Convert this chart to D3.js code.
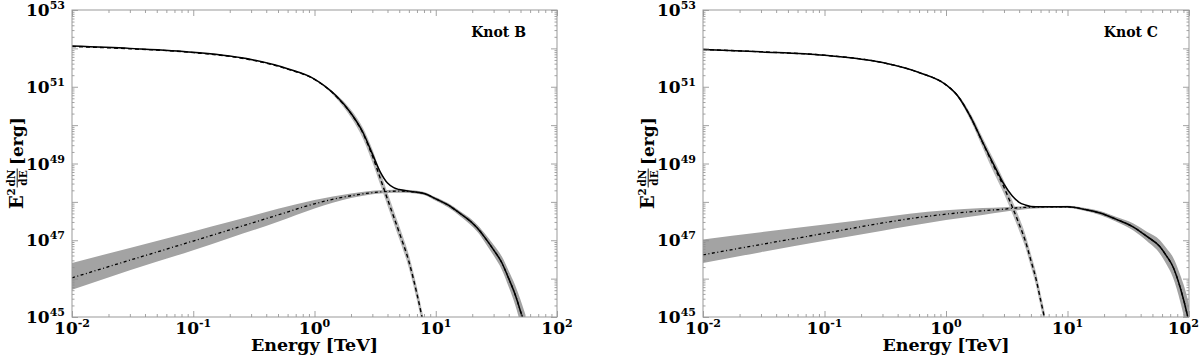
<!DOCTYPE html>
<html><head><meta charset="utf-8">
<script src="https://cdn.jsdelivr.net/npm/d3@7"></script>
<style>body{margin:0;background:#fff}</style></head>
<body><svg id="c" width="1200" height="356"></svg>
<script>
// Values: energies in TeV, curve values as log10(E^2 dN/dE / erg)
const xTickLabels = ["-2","-1","0","1","2"];
const yTickLabels = ["45","47","49","51","53"];
const panelTitles = ["Knot B","Knot C"];

// ---- Knot B ----
const knotB_lepE  = [0.01,0.03,0.1,0.3,0.6,1,1.5,2,2.5,3,3.5,4,5,6,7,8];
const knotB_lep   = [52.05,51.99,51.89,51.70,51.46,51.19,50.76,50.30,49.80,49.20,48.60,48.07,47.20,46.45,45.60,44.75];
const knotB_lepLo = [52.04,51.98,51.88,51.69,51.45,51.18,50.71,50.20,49.66,49.03,48.43,47.90,47.03,46.28,45.43,44.58];
const knotB_lepHi = [52.06,52.00,51.90,51.71,51.47,51.20,50.81,50.40,49.94,49.37,48.77,48.24,47.37,46.62,45.77,44.92];

const knotB_hadE  = [0.01,0.03,0.1,0.2,0.5,1,2,3,4,5,6,7,8,10,12.6,16,20,23,25,30,35,40,45,50,55];
const knotB_had   = [46.02,46.48,46.98,47.27,47.66,47.95,48.16,48.24,48.27,48.28,48.27,48.25,48.22,48.08,47.92,47.69,47.45,47.25,47.10,46.75,46.42,46.00,45.60,45.15,44.70];
const knotB_hadLo = [45.71,46.22,46.74,47.06,47.48,47.83,48.10,48.20,48.23,48.24,48.23,48.21,48.18,48.03,47.86,47.62,47.36,47.15,46.98,46.60,46.24,45.78,45.33,44.82,44.30];
const knotB_hadHi = [46.41,46.80,47.23,47.48,47.82,48.05,48.22,48.29,48.31,48.32,48.31,48.29,48.26,48.12,47.97,47.75,47.53,47.34,47.20,46.88,46.58,46.20,45.84,45.45,45.05];

const knotB_totE  = [0.01,0.03,0.1,0.3,0.6,1,1.5,2,2.5,3,3.5,4,4.5,5,6,7,8,10,12.6,16,20,23,25,30,35,40,45,50,55];
const knotB_tot   = [52.06,52.00,51.90,51.71,51.47,51.20,50.77,50.31,49.82,49.25,48.77,48.49,48.37,48.32,48.28,48.25,48.22,48.08,47.92,47.69,47.45,47.25,47.10,46.75,46.42,46.00,45.60,45.15,44.70];

// ---- Knot C ----
const knotC_lepE  = [0.01,0.03,0.1,0.3,0.6,1,1.25,1.6,2,2.5,3,3.5,4,4.5,5,5.5,6,6.5];
const knotC_lep   = [51.97,51.91,51.82,51.63,51.37,51.05,50.76,50.20,49.55,48.90,48.38,47.88,47.42,46.98,46.47,46.00,45.45,44.95];
const knotC_lepLo = [51.96,51.90,51.81,51.62,51.36,51.04,50.72,50.11,49.42,48.73,48.21,47.71,47.25,46.81,46.30,45.83,45.28,44.78];
const knotC_lepHi = [51.98,51.92,51.83,51.64,51.38,51.06,50.80,50.29,49.68,49.07,48.55,48.05,47.59,47.15,46.64,46.17,45.62,45.12];

const knotC_hadE  = [0.01,0.03,0.1,0.3,0.5,1,2,3,4,5,7,10,14,18.5,25,34.6,45,57.7,65,73.8,85,97.7,100];
const knotC_had   = [46.62,46.89,47.18,47.45,47.56,47.68,47.77,47.81,47.85,47.86,47.87,47.87,47.80,47.71,47.55,47.35,47.10,46.83,46.60,46.31,45.75,45.00,44.85];
const knotC_hadLo = [46.41,46.69,46.99,47.25,47.37,47.53,47.66,47.74,47.79,47.82,47.84,47.84,47.76,47.66,47.49,47.26,46.98,46.65,46.38,46.03,45.38,44.50,44.30];
const knotC_hadHi = [47.02,47.21,47.41,47.60,47.69,47.78,47.84,47.86,47.88,47.89,47.89,47.90,47.84,47.76,47.61,47.44,47.22,47.00,46.80,46.56,46.08,45.45,45.30];

const knotC_totE  = [0.01,0.03,0.1,0.3,0.6,1,1.25,1.6,2,2.5,3,3.5,4,4.5,5,6,7,10,14,18.5,25,34.6,45,57.7,65,73.8,85,97.7,100];
const knotC_tot   = [51.97,51.91,51.82,51.63,51.37,51.05,50.76,50.20,49.56,48.94,48.46,48.16,47.99,47.92,47.88,47.87,47.87,47.87,47.80,47.71,47.55,47.35,47.10,46.83,46.60,46.31,45.75,45.00,44.85];

const panels = [
  {x0:72, x1:557, title:panelTitles[0],
   lep:{E:knotB_lepE,v:knotB_lep,lo:knotB_lepLo,hi:knotB_lepHi},
   had:{E:knotB_hadE,v:knotB_had,lo:knotB_hadLo,hi:knotB_hadHi},
   tot:{E:knotB_totE,v:knotB_tot}},
  {x0:703, x1:1189, title:panelTitles[1],
   lep:{E:knotC_lepE,v:knotC_lep,lo:knotC_lepLo,hi:knotC_lepHi},
   had:{E:knotC_hadE,v:knotC_had,lo:knotC_hadLo,hi:knotC_hadHi},
   tot:{E:knotC_totE,v:knotC_tot}}
];

const Y0 = 10, Y1 = 317;
const FONT = "'DejaVu Serif', serif";
const svg = d3.select("#c");
const y = d3.scaleLog().domain([1e45,1e53]).range([Y1,Y0]);
const decadesX = [0.01,0.1,1,10,100];
const minorX = [];
[0.01,0.1,1,10].forEach(d=>{for(let k=2;k<=9;k++) minorX.push(d*k);});
const decadesY = d3.range(45,54).map(p=>Math.pow(10,p));
const minorY = [];
d3.range(45,53).forEach(p=>{[2,3,4,5,6,7,8,9].forEach(k=>minorY.push(k*Math.pow(10,p)));});

function pts(s, key){ return s.E.map((e,i)=>({e, v:s[key][i], lo:s.lo?s.lo[i]:null, hi:s.hi?s.hi[i]:null})); }

panels.forEach((p,pi)=>{
  const x = d3.scaleLog().domain([0.01,100]).range([p.x0,p.x1]);
  const g = svg.append("g");
  const clipId = "clip"+pi;
  svg.append("clipPath").attr("id",clipId).append("rect")
    .attr("x",p.x0).attr("y",Y0).attr("width",p.x1-p.x0).attr("height",Y1-Y0);
  const plot = g.append("g").attr("clip-path",`url(#${clipId})`);

  const area = d3.area().x(d=>x(d.e)).y0(d=>y(Math.pow(10,d.lo))).y1(d=>y(Math.pow(10,d.hi))).curve(d3.curveMonotoneX);
  const line = d3.line().x(d=>x(d.e)).y(d=>y(Math.pow(10,d.v))).curve(d3.curveMonotoneX);

  plot.append("path").attr("d",area(pts(p.had,"v"))).attr("fill","#a3a3a3");
  plot.append("path").attr("d",area(pts(p.lep,"v"))).attr("fill","#b8b8b8");
  plot.append("path").attr("d",line(pts(p.lep,"v"))).attr("fill","none")
    .attr("stroke","#000").attr("stroke-width",1.4).attr("stroke-dasharray","4,3");
  plot.append("path").attr("d",line(pts(p.had,"v"))).attr("fill","none")
    .attr("stroke","#000").attr("stroke-width",1.3).attr("stroke-dasharray","3,2.5,1,2.5");
  plot.append("path").attr("d",line(pts(p.tot,"v"))).attr("fill","none")
    .attr("stroke","#000").attr("stroke-width",1.5);

  // ticks via d3 axes (inward)
  const tickCol = "#8c8c8c";
  function styleAxis(sel){ sel.select(".domain").remove(); sel.selectAll("line").attr("stroke",tickCol).attr("stroke-width",0.8); sel.selectAll("text").remove(); }
  g.append("g").attr("transform",`translate(0,${Y1})`).call(d3.axisBottom(x).tickValues(decadesX).tickSize(-6).tickFormat("")).call(styleAxis);
  g.append("g").attr("transform",`translate(0,${Y1})`).call(d3.axisBottom(x).tickValues(minorX).tickSize(-3).tickFormat("")).call(styleAxis);
  g.append("g").attr("transform",`translate(0,${Y0})`).call(d3.axisTop(x).tickValues(decadesX).tickSize(-6).tickFormat("")).call(styleAxis);
  g.append("g").attr("transform",`translate(0,${Y0})`).call(d3.axisTop(x).tickValues(minorX).tickSize(-3).tickFormat("")).call(styleAxis);
  g.append("g").attr("transform",`translate(${p.x0},0)`).call(d3.axisLeft(y).tickValues(decadesY).tickSize(-6).tickFormat("")).call(styleAxis);
  g.append("g").attr("transform",`translate(${p.x0},0)`).call(d3.axisLeft(y).tickValues(minorY).tickSize(-2.5).tickFormat("")).call(styleAxis);
  g.append("g").attr("transform",`translate(${p.x1},0)`).call(d3.axisRight(y).tickValues(decadesY).tickSize(-6).tickFormat("")).call(styleAxis);
  g.append("g").attr("transform",`translate(${p.x1},0)`).call(d3.axisRight(y).tickValues(minorY).tickSize(-2.5).tickFormat("")).call(styleAxis);

  g.append("rect").attr("x",p.x0).attr("y",Y0).attr("width",p.x1-p.x0).attr("height",Y1-Y0)
    .attr("fill","none").attr("stroke","#999").attr("stroke-width",1);

  // tick labels
  function pow(parent, px, py, exp, anchor){
    const t = parent.append("text").attr("x",px).attr("y",py).attr("text-anchor",anchor)
      .attr("font-family",FONT).attr("font-weight","bold").attr("font-size",17).attr("fill","#000");
    t.append("tspan").text("10");
    t.append("tspan").attr("dy",-7).attr("font-size",11).text(exp);
    const bb = t.node().getBBox();
    if (bb.x + bb.width > 1199) t.attr("x", px - (bb.x + bb.width - 1199));
    return t;
  }
  xTickLabels.forEach((l,i)=>pow(g, x(decadesX[i]), 334, l, "middle"));
  yTickLabels.forEach((l,i)=>pow(g, p.x0-7, y(Math.pow(10,+l))+6, l, "end"));

  // x-axis title
  g.append("text").attr("x",(p.x0+p.x1)/2).attr("y",351).attr("text-anchor","middle")
    .attr("font-family",FONT).attr("font-weight","bold").attr("font-size",17.5).text("Energy [TeV]");

  // panel title
  g.append("text").attr("x",p.x1-31).attr("y",37).attr("text-anchor","end")
    .attr("font-family",FONT).attr("font-weight","bold").attr("font-size",14).text(p.title);

  // y-axis title: E^2 dN/dE [erg]
  const yl = g.append("g").attr("transform",`translate(${p.x0-49},164) rotate(-90)`)
    .attr("font-family",FONT).attr("font-weight","bold").attr("fill","#000");
  yl.append("text").attr("x",-45).attr("y",0).attr("font-size",18).text("E");
  yl.append("text").attr("x",-31.5).attr("y",-8.5).attr("font-size",10.5).text("2");
  yl.append("text").attr("x",-14).attr("y",-8.2).attr("font-size",10.5).attr("text-anchor","middle").text("dN");
  yl.append("line").attr("x1",-23.5).attr("x2",-4.5).attr("y1",-5.8).attr("y2",-5.8).attr("stroke","#000").attr("stroke-width",0.9);
  yl.append("text").attr("x",-14).attr("y",4.2).attr("font-size",10.5).attr("text-anchor","middle").text("dE");
  yl.append("text").attr("x",-1).attr("y",0).attr("font-size",17).text("[erg]");
});
</script></body></html>
